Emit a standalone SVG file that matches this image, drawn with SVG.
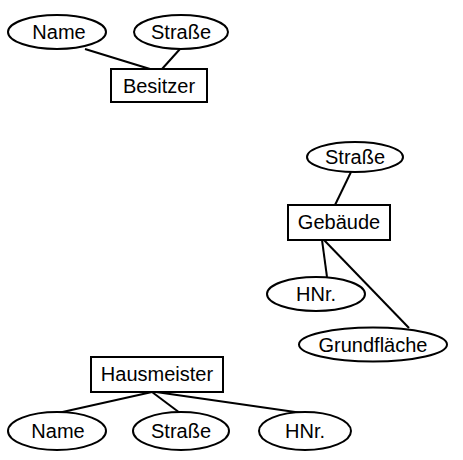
<svg xmlns="http://www.w3.org/2000/svg" width="463" height="460" viewBox="0 0 463 460">
<style>
.s{fill:#fff;stroke:#000;stroke-width:2}
.t{font-family:"Liberation Sans",Arial,sans-serif;font-size:20px;fill:#000;text-anchor:middle}
.c line{stroke:#000;stroke-width:2}
</style>
<rect width="463" height="460" fill="#fff"/>
<g class="c" id="connectors">
<line x1="85" y1="49" x2="150" y2="69"/>
<line x1="180" y1="49" x2="162" y2="69"/>
<line x1="351" y1="172" x2="335" y2="205"/>
<line x1="322" y1="240" x2="327" y2="277"/>
<line x1="324" y1="240" x2="409" y2="328"/>
<line x1="152" y1="392" x2="58" y2="413"/>
<line x1="152" y1="392" x2="180" y2="413"/>
<line x1="156" y1="392" x2="302" y2="413"/>
</g>
<g id="besitzer"><rect class="s" x="111" y="69" width="96" height="33"/><text class="t" x="159" y="93">Besitzer</text></g>
<g id="b_name"><ellipse class="s" cx="57" cy="32" rx="49" ry="17"/><text class="t" x="59" y="39">Name</text></g>
<g id="b_strasse"><ellipse class="s" cx="181" cy="32" rx="47" ry="17"/><text class="t" x="181" y="39">Straße</text></g>
<g id="gebaeude"><rect class="s" x="288" y="205" width="102" height="35"/><text class="t" x="339" y="229">Gebäude</text></g>
<g id="g_strasse"><ellipse class="s" cx="355" cy="157" rx="48" ry="15"/><text class="t" x="355" y="164">Straße</text></g>
<g id="g_hnr"><ellipse class="s" cx="316" cy="294" rx="49" ry="17"/><text class="t" x="316" y="301">HNr.</text></g>
<g id="g_grundflaeche"><ellipse class="s" cx="373" cy="344.5" rx="74" ry="17"/><text class="t" x="373" y="352">Grundfläche</text></g>
<g id="hausmeister"><rect class="s" x="91" y="357" width="132" height="35"/><text class="t" x="157" y="381">Hausmeister</text></g>
<g id="h_name"><ellipse class="s" cx="57" cy="431" rx="49" ry="19"/><text class="t" x="58" y="438">Name</text></g>
<g id="h_strasse"><ellipse class="s" cx="181" cy="431" rx="48" ry="19"/><text class="t" x="181" y="438">Straße</text></g>
<g id="h_hnr"><ellipse class="s" cx="305" cy="431" rx="46" ry="19"/><text class="t" x="305" y="438">HNr.</text></g>
</svg>
